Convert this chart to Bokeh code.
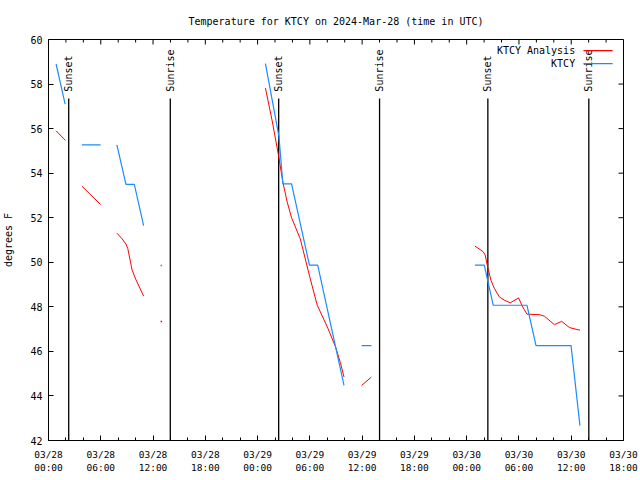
import math
from bokeh.plotting import figure
from bokeh.models import FixedTicker, Range1d
from bokeh.core.properties import value
from bokeh.embed import file_html
from bokeh.resources import INLINE

# ---------------- data (hours since 03/28 00:00 UTC) ----------------
NaN = float("nan")

analysis_hours = [0.87, 1.95, NaN,
                  3.83, 5.98, NaN,
                  7.85, 8.45, 8.89, 9.10, 9.60, 10.0, 10.92, NaN,
                  24.9, 25.7, 26.4, 26.9, 27.4, 27.9, 28.9, 30.05, 30.85, 32.0, 32.95, 33.5, 33.92, NaN,
                  35.94, 37.06, NaN,
                  48.94, 49.9, 50.13, 50.40, 50.78, 51.17, 51.74, 52.32, 53.0, 53.96, 54.42, 54.92,
                  56.34, 56.92, 58.07, 58.9, 59.79, 61.01]
analysis_temps = [55.90, 55.47, NaN,
                  53.42, 52.59, NaN,
                  51.31, 51.05, 50.82, 50.62, 49.65, 49.25, 48.48, NaN,
                  57.82, 56.30, 54.80, 53.60, 52.70, 52.00, 51.05, 49.25, 48.07, 47.10, 46.20, 45.50, 44.85, NaN,
                  44.47, 44.85, NaN,
                  50.73, 50.47, 50.32, 49.80, 49.20, 48.83, 48.45, 48.30, 48.18, 48.40, 48.00, 47.67,
                  47.65, 47.58, 47.20, 47.35, 47.07, 46.95]
analysis_dot_hours = [12.95]
analysis_dot_temps = [47.34]

obs_hours = [0.87, 1.91, NaN,
             3.83, 5.98, NaN,
             7.85, 8.89, 9.85, 10.92, NaN,
             24.9, 26.45, 26.9, 27.9, 29.95, 30.9, 33.92, NaN,
             35.94, 37.06, NaN,
             48.94, 50.02, 51.05, 54.92, 55.96, 59.98, 61.0]
obs_temps = [58.90, 57.10, NaN,
             55.27, 55.27, NaN,
             55.27, 53.50, 53.50, 51.65, NaN,
             58.92, 55.65, 53.52, 53.52, 49.87, 49.87, 44.47, NaN,
             46.26, 46.26, NaN,
             49.87, 49.87, 48.07, 48.07, 46.26, 46.26, 42.67]
obs_dot_hours = [12.95]
obs_dot_temps = [49.86]

sunset_hours = [2.32, 26.42, 50.43]
sunrise_hours = [13.98, 38.00, 62.02]
event_line_top = 57.35
event_label_base = 57.66

X_MIN, X_MAX = 0, 66
Y_MIN, Y_MAX = 42, 60
xtick_hours = [0, 6, 12, 18, 24, 30, 36, 42, 48, 54, 60, 66]
xtick_labels = ["03/28\n00:00", "03/28\n06:00", "03/28\n12:00", "03/28\n18:00",
                "03/29\n00:00", "03/29\n06:00", "03/29\n12:00", "03/29\n18:00",
                "03/30\n00:00", "03/30\n06:00", "03/30\n12:00", "03/30\n18:00"]
xminor_hours = list(range(0, 67, 2))
ytick_values = [42, 44, 46, 48, 50, 52, 54, 56, 58, 60]

series_names = ["KTCY Analysis", "KTCY"]
series_colors = ["#ff0000", "#1a8cff"]
legend_text_x = 60.45
legend_line_x = [61.4, 64.75]
legend_y = [59.5, 58.92]

FONT = "DejaVu Sans Mono"
FRAME_W, FRAME_H = 575, 401
MAJOR_TICK, MINOR_TICK = 5, 3

# ---------------- figure ----------------
p = figure(frame_width=FRAME_W, frame_height=FRAME_H,
           x_range=Range1d(X_MIN, X_MAX), y_range=Range1d(Y_MIN, Y_MAX),
           output_backend="svg", toolbar_location=None,
           min_border_left=47, min_border_right=18,
           min_border_top=39, min_border_bottom=40,
           title="Temperature for KTCY on 2024-Mar-28 (time in UTC)")
p.title.align = "center"
p.title.text_font = FONT
p.title.text_font_size = "10px"
p.title.text_font_style = "normal"
p.title.text_color = "black"
p.title.standoff = 26
p.xgrid.visible = False
p.ygrid.visible = False
p.outline_line_color = "black"
p.outline_line_width = 1
p.outline_line_alpha = 1
p.background_fill_color = "white"
p.border_fill_color = "white"

def style_axis(ax, ticks, minor):
    ax.ticker = FixedTicker(ticks=ticks, minor_ticks=minor)
    ax.axis_line_color = None
    ax.major_tick_in = MAJOR_TICK
    ax.major_tick_out = 0
    ax.minor_tick_in = MINOR_TICK if minor else 0
    ax.minor_tick_out = 0
    ax.major_tick_line_color = "black"
    ax.minor_tick_line_color = "black"
    ax.major_label_text_font = FONT
    ax.major_label_text_color = "black"

# bottom x axis
xa = p.xaxis[0]
style_axis(xa, xtick_hours, xminor_hours)
xa.major_label_overrides = {h: lab for h, lab in zip(xtick_hours, xtick_labels)}
xa.major_label_text_font_size = "9.5px"
xa.major_label_standoff = 8

# left y axis
ya = p.yaxis[0]
style_axis(ya, ytick_values, [])
ya.major_label_text_font_size = "10px"
ya.major_label_standoff = 6
ya.axis_label = "degrees F"
ya.axis_label_text_font = FONT
ya.axis_label_text_font_size = "10px"
ya.axis_label_text_font_style = "normal"
ya.axis_label_text_color = "black"
ya.axis_label_standoff = 13

# mirrored ticks on the top and right borders (gnuplot style)
hours_per_px = (X_MAX - X_MIN) / FRAME_W
deg_per_px = (Y_MAX - Y_MIN) / FRAME_H
minor_only = [h for h in xminor_hours if h not in xtick_hours]
p.segment(x0=xtick_hours, y0=[Y_MAX] * len(xtick_hours), x1=xtick_hours,
          y1=[Y_MAX - MAJOR_TICK * deg_per_px] * len(xtick_hours), line_color="black", line_width=1)
p.segment(x0=minor_only, y0=[Y_MAX] * len(minor_only), x1=minor_only,
          y1=[Y_MAX - MINOR_TICK * deg_per_px] * len(minor_only), line_color="black", line_width=1)
p.segment(x0=[X_MAX] * len(ytick_values), y0=ytick_values,
          x1=[X_MAX - MAJOR_TICK * hours_per_px] * len(ytick_values), y1=ytick_values,
          line_color="black", line_width=1)

# sunset / sunrise markers
for hours, name in [(sunset_hours, "Sunset"), (sunrise_hours, "Sunrise")]:
    p.segment(x0=hours, y0=[Y_MIN] * len(hours), x1=hours, y1=[event_line_top] * len(hours),
              line_color="black", line_width=1.3)
    p.text(x=hours, y=[event_label_base] * len(hours), text=[name] * len(hours),
           angle=math.pi / 2, text_align="left", text_baseline="middle",
           text_font=value(FONT), text_font_size="10px", text_color="black")

# data lines
p.line(analysis_hours, analysis_temps, line_color=series_colors[0], line_width=1)
p.scatter(analysis_dot_hours, analysis_dot_temps, marker="square", size=1.5,
          fill_color=series_colors[0], line_color=None)
p.line(obs_hours, obs_temps, line_color=series_colors[1], line_width=1.2)
p.scatter(obs_dot_hours, obs_dot_temps, marker="square", size=1.5,
          fill_color=series_colors[1], line_color=None)

# legend (gnuplot style: text then sample line)
p.text(x=[legend_text_x] * 2, y=legend_y, text=series_names,
       text_align="right", text_baseline="middle",
       text_font=value(FONT), text_font_size="10px", text_color="black")
p.segment(x0=[legend_line_x[0]] * 2, y0=legend_y, x1=[legend_line_x[1]] * 2, y1=legend_y,
          line_color=series_colors, line_width=1.2)

open("out.html", "w").write(file_html(p, INLINE))
